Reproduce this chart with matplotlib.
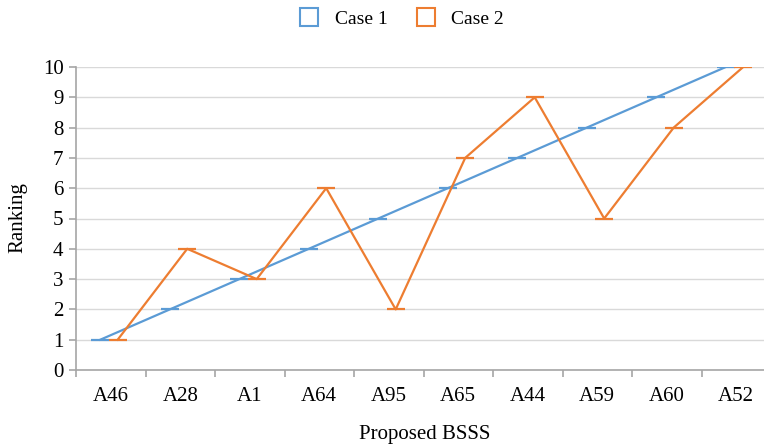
import matplotlib
matplotlib.use("Agg")
import matplotlib.pyplot as plt
import numpy as np

categories = ["A46", "A28", "A1", "A64", "A95", "A65", "A44", "A59", "A60", "A52"]
case1 = [1, 2, 3, 4, 5, 6, 7, 8, 9, 10]
case2 = [1, 4, 3, 6, 2, 7, 9, 5, 8, 10]
series_names = ["Case 1", "Case 2"]

plt.rcParams['font.family'] = ['Liberation Serif', 'DejaVu Serif']

fig = plt.figure(figsize=(7.64, 4.46), dpi=100)
ax = fig.add_axes([76/764, 1-370/446, 695/764, (370-67)/446])

blue = '#5B9BD5'
orange = '#ED7D31'
x = np.arange(len(categories))
ax.plot(x - 0.15, case1, color=blue, lw=1.6, marker='_', markersize=13, mew=1.6)
ax.plot(x + 0.10, case2, color=orange, lw=1.6, marker='_', markersize=13, mew=1.6)

ax.set_xlim(-0.5, len(categories) - 0.5)
ax.set_ylim(0, 10)
ax.set_yticks(range(0, 11))
ax.set_xticks(x)
ax.set_xticklabels(categories)
ax.set_xticks(np.arange(-0.5, len(categories), 1.0), minor=True)
ax.tick_params(axis='x', which='major', length=0, pad=12, labelsize=15)
ax.tick_params(axis='x', which='minor', length=5, width=1.2, color='#a6a6a6')
ax.tick_params(axis='y', length=5, width=1.2, color='#a6a6a6', labelsize=15, pad=4)
ax.grid(axis='y', color='#d9d9d9', lw=1)
ax.set_axisbelow(True)
for s in ['top', 'right']:
    ax.spines[s].set_visible(False)
for s in ['left', 'bottom']:
    ax.spines[s].set_color('#a6a6a6')
    ax.spines[s].set_linewidth(1.2)

fig.text(18/764, 1-218/446, "Ranking", rotation=90, ha='center', va='center', fontsize=15)
fig.text(425/764, 1-435/446, "Proposed BSSS", ha='center', va='center', fontsize=15)

from matplotlib.lines import Line2D
handles = [Line2D([], [], ls='none', marker='s', markersize=13, mfc='white', mec=c, mew=1.5)
           for c in (blue, orange)]
fig.legend(handles, series_names, loc='center', bbox_to_anchor=(397/764, 1-19/446),
           ncol=2, frameon=False, fontsize=14, handletextpad=0.3, columnspacing=1.0)

fig.savefig("out.png", dpi=100)
